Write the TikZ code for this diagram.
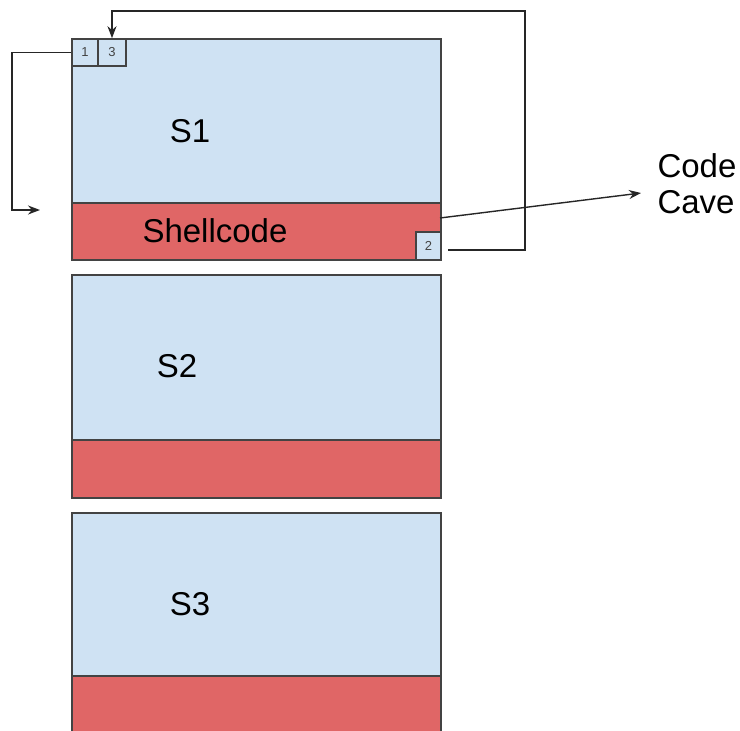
\documentclass[tikz,border=0pt]{standalone}
\usepackage{fontspec}
\setmainfont{Liberation Sans}
\usetikzlibrary{arrows.meta}
\definecolor{segblue}{HTML}{CFE2F3}
\definecolor{segred}{HTML}{E06666}
\definecolor{edge}{HTML}{434343}
\begin{document}
\begin{tikzpicture}[x=1pt,y=-1pt,
  seg/.style={draw=edge,line width=1.8pt,fill=segblue},
  cave/.style={draw=edge,line width=1.8pt,fill=segred},
  tag/.style={draw=edge,line width=1.6pt,fill=segblue,inner sep=0pt,font=\fontsize{13}{15}\selectfont,text=edge},
  lbl/.style={font=\fontsize{33}{36}\selectfont},
  link/.style={draw=black!85,line width=1.7pt},
  tip/.style={-{Stealth[length=12pt,width=9pt]}}]
\useasboundingbox (0,0) rectangle (740,731);
\clip (0,0) rectangle (740,731);
% section S1
\draw[seg] (72,39) rectangle (441,203);
\draw[cave] (72,203) rectangle (441,260);
% section S2
\draw[seg] (72,275) rectangle (441,440);
\draw[cave] (72,440) rectangle (441,498);
% section S3
\draw[seg] (72,513) rectangle (441,676);
\draw[cave] (72,676) rectangle (441,740);
% labels
\node[lbl] (s1) at (190,131) {S1};
\node[lbl] (shell) at (215,231) {Shellcode};
\node[lbl] (s2) at (177,366) {S2};
\node[lbl] (s3) at (190,604) {S3};
\node[lbl,align=left,inner sep=0pt] (cc) at (697,184) {Code\\Cave};
% step markers
\node[tag,minimum width=26pt,minimum height=27pt] (t1) at (85,52.5) {1};
\node[tag,minimum width=28pt,minimum height=27pt] (t3) at (112,52.5) {3};
\node[tag,minimum width=25pt,minimum height=28pt] (t2) at (428.5,246) {2};
% jump from 1 into the shellcode
\coordinate (j1) at (40,210);
\draw[link,tip] (t1.west) -- (12,52.5) |- (j1);
% jump from 2 back to 3
\coordinate (r2) at (448,250);
\draw[link,tip] (r2) -- (525,250) |- (112,11) -- (t3.north);
% code cave pointer
\coordinate (cs) at (440,218);
\coordinate (ce) at (641,193);
\draw[link,tip,line width=1.4pt] (cs) -- (ce);
\end{tikzpicture}
\end{document}
